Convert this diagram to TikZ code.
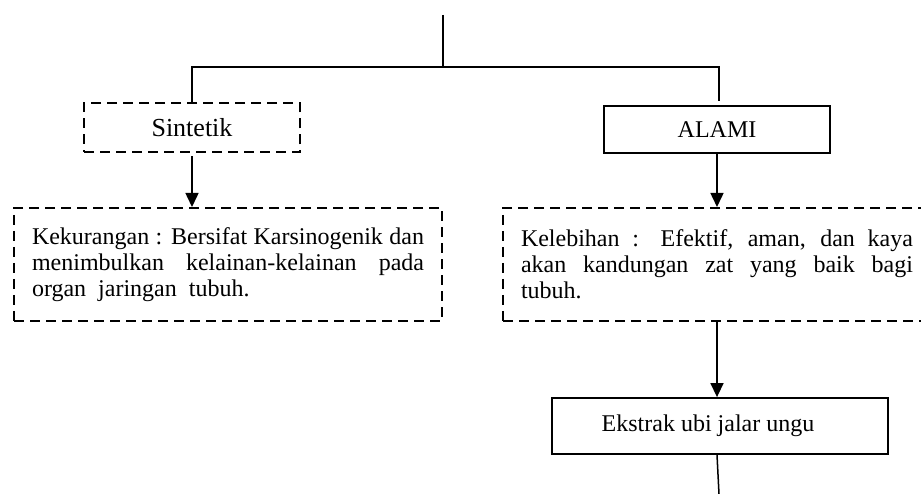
\documentclass[tikz,border=0pt]{standalone}
\usepackage{fontspec}
\setmainfont{Liberation Serif}
\usetikzlibrary{arrows.meta}

\begin{document}
\begin{tikzpicture}[x=1pt, y=-1pt,
  every node/.style={font=\fontsize{24}{26}\selectfont},
  conn/.style={draw=black, line width=1.5pt},
  arrowline/.style={conn, -{Triangle[length=14pt, width=13pt]}},
  solidbox/.style={draw=black, line width=1.8pt, rectangle, inner sep=0pt},
  dashbox/.style={draw=black, line width=2pt, dash pattern=on 10pt off 6pt, rectangle, inner sep=0pt},
  textbox/.style={dashbox, anchor=north west, text width=392pt, inner xsep=18pt,
    minimum height=113pt, align=justify}]

  % page frame
  \useasboundingbox (0,0) rectangle (921,494);
  \fill[white] (0,0) rectangle (921,494);
  \clip (0,0) rectangle (921,494);

  % free ends of the trunk and the tail line
  \coordinate (top) at (443,15);
  \coordinate (split) at (443,67);
  \coordinate (tail) at (719,494);

  % first level
  \node[dashbox, minimum width=216pt, minimum height=49pt,
    font=\fontsize{26}{28}\selectfont] (sin) at (192,128) {Sintetik};
  \node[solidbox, minimum width=226pt, minimum height=47pt] (alami) at (717,129.5) {ALAMI};

  % explanation boxes
  \node[textbox] (kur) at (13,207) {\hyphenpenalty=10000\exhyphenpenalty=10000
    Kekurangan : Bersifat Karsinogenik dan\linebreak
    menimbulkan kelainan-kelainan pada\linebreak
    organ\ \ jaringan\ \ tubuh.};
  \node[textbox] (leb) at (502,207) {\hyphenpenalty=10000\exhyphenpenalty=10000
    Kelebihan : Efektif, aman, dan kaya\linebreak
    akan kandungan zat yang baik bagi\linebreak
    tubuh.};

  % extract box, label set a little left of centre
  \node[solidbox, minimum width=336pt, minimum height=56pt] (eks) at (720,426)
    {Ekstrak ubi jalar ungu\kern24pt};

  % trunk and branches
  \draw[conn] (top) -- (split);
  \draw[conn] (sin.north) -- (sin.north |- split) -- ([xshift=2pt]alami.north |- split)
    -- ([xshift=2pt, yshift=4pt]alami.north);

  % arrows
  \draw[arrowline] ([yshift=-3pt]sin.south) -- (sin.south |- kur.north);
  \draw[arrowline] (alami.south) -- (alami.south |- leb.north);
  \draw[arrowline] (alami.south |- leb.south) -- (alami.south |- eks.north);
  \draw[conn] (alami.south |- eks.south) -- (tail);
\end{tikzpicture}
\end{document}
